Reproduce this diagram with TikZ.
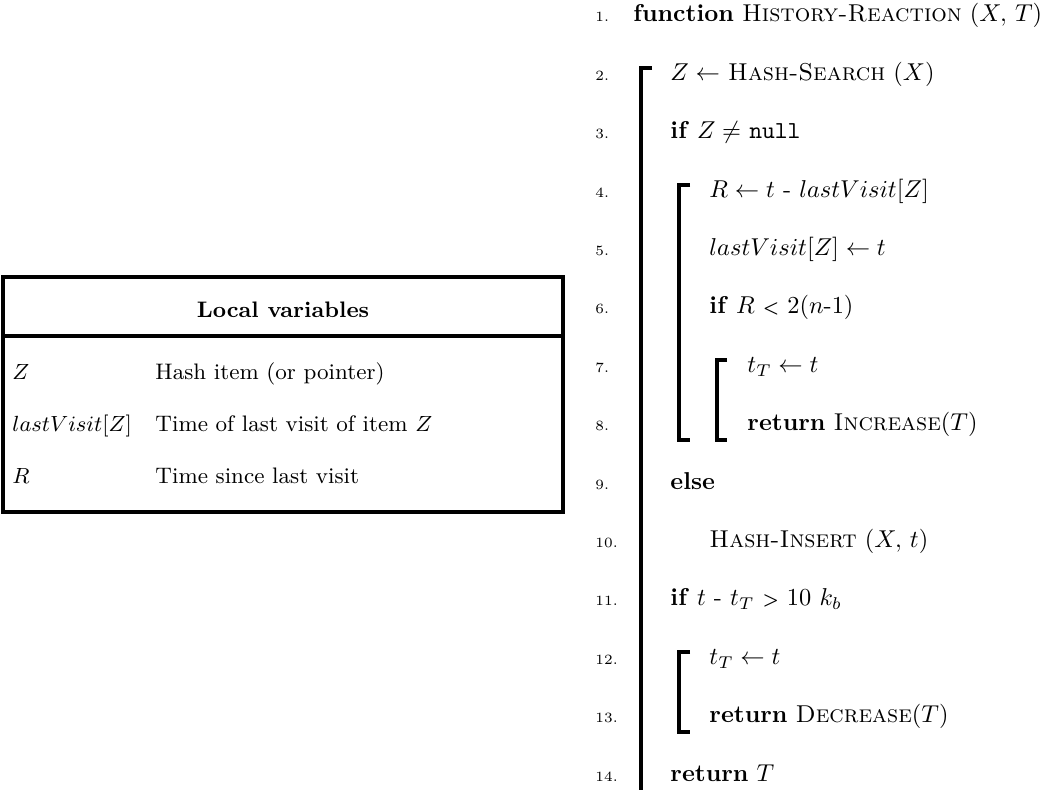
\documentclass[tikz,border=0pt]{standalone}
\usepackage{fontspec}
\newcommand{\smallrel}[1]{{\fontsize{7.5pt}{8pt}\selectfont\bfseries #1}}
\begin{document}
\begin{tikzpicture}[x=0.41pt,y=-0.41pt,
  num/.style={anchor=base west,font=\fontsize{5.8pt}{7pt}\selectfont,inner sep=0pt},
  code/.style={anchor=base west,inner sep=0pt},
  brk/.style={line width=1.3pt},
  cell/.style={anchor=base west,inner sep=0pt,font=\fontsize{9.2pt}{11pt}\selectfont},
  frame/.style={line width=1.3pt}]
\useasboundingbox (0,0) rectangle (1042,790);

% ---- table of local variables ----
\draw[frame] (3,277) rectangle (563,512);
\draw[frame] (3,336) -- (563,336);
\node[cell,anchor=base] (hdr) at (283,318) {\bfseries Local variables};
\node[cell] (v1) at (12,380) {$Z$};
\node[cell] (d1) at (155,380) {Hash item (or pointer)};
\node[cell] (v2) at (12,432) {$lastVisit[Z]$};
\node[cell] (d2) at (155,432) {Time of last visit of item $Z$};
\node[cell] (v3) at (12,484) {$R$};
\node[cell] (d3) at (155,484) {Time since last visit};

% ---- line numbers ----
\node[num] (n1)  at (595,22)    {1.};
\node[num] (n2)  at (595,80.4)  {2.};
\node[num] (n3)  at (595,138.8) {3.};
\node[num] (n4)  at (595,197.2) {4.};
\node[num] (n5)  at (595,255.6) {5.};
\node[num] (n6)  at (595,314)   {6.};
\node[num] (n7)  at (595,372.4) {7.};
\node[num] (n8)  at (595,430.8) {8.};
\node[num] (n9)  at (595,489.2) {9.};
\node[num] (n10) at (595,547.6) {10.};
\node[num] (n11) at (595,606)   {11.};
\node[num] (n12) at (595,664.4) {12.};
\node[num] (n13) at (595,722.8) {13.};
\node[num] (n14) at (595,781.2) {14.};

% ---- pseudocode lines ----
\node[code] (l1)  at (633,22)    {\textbf{function} \textsc{History-Reaction} $(X,\,T)$};
\node[code] (l2)  at (670,80.4)  {$Z \leftarrow$ \textsc{Hash-Search} $(X)$};
\node[code] (l3)  at (670,138.8) {\textbf{if} $Z \neq$ \texttt{null}};
\node[code] (l4)  at (709,197.2) {$R \leftarrow t$ - $lastVisit[Z]$};
\node[code] (l5)  at (709,255.6) {$lastVisit[Z] \leftarrow t$};
\node[code] (l6)  at (709,314)   {\textbf{if} $R$ \smallrel{<} $2(n$-$1)$};
\node[code] (l7)  at (747,372.4) {$t_T \leftarrow t$};
\node[code] (l8)  at (747,430.8) {\textbf{return} \textsc{Increase}$(T)$};
\node[code] (l9)  at (670,489.2) {\textbf{else}};
\node[code] (l10) at (709,547.6) {\textsc{Hash-Insert} $(X,\,t)$};
\node[code] (l11) at (670,606)   {\textbf{if} $t$ - $t_T$ \smallrel{>} $10$ $k_b$};
\node[code] (l12) at (709,664.4) {$t_T \leftarrow t$};
\node[code] (l13) at (709,722.8) {\textbf{return} \textsc{Decrease}$(T)$};
\node[code] (l14) at (670,781.2) {\textbf{return} $T$};

% ---- block brackets ----
\draw[brk] (652,68) -- (641,68) -- (641,795);
\draw[brk] (690,185) -- (679,185) -- (679,440) -- (690,440);
\draw[brk] (727,360) -- (717,360) -- (717,440) -- (727,440);
\draw[brk] (690,652) -- (679,652) -- (679,732) -- (690,732);
\end{tikzpicture}
\end{document}
